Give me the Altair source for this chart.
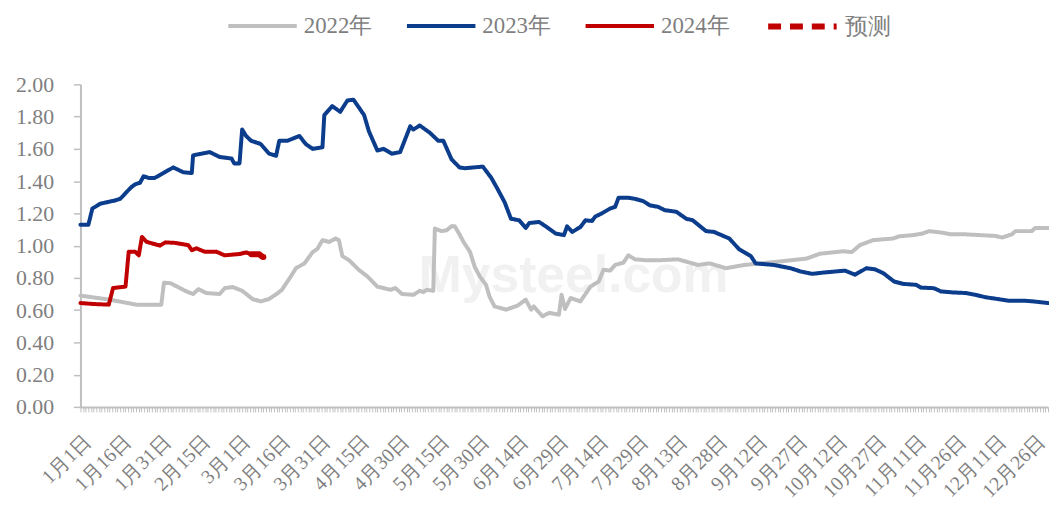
import altair as alt
import pandas as pd

tick_labels = ["1月1日", "1月16日", "1月31日", "2月15日", "3月1日", "3月16日", "3月31日",
               "4月15日", "4月30日", "5月15日", "5月30日", "6月14日", "6月29日", "7月14日",
               "7月29日", "8月13日", "8月28日", "9月12日", "9月27日", "10月12日", "10月27日",
               "11月11日", "11月26日", "12月11日", "12月26日"]

series_names = ["2022年", "2023年", "2024年", "预测"]

days_2022 = [0, 11, 17.5, 21, 30.5, 31.5, 34, 37.5, 40, 42.5, 44.5, 47.5, 52.5, 54.5, 57.5, 61, 65, 68, 71, 74, 76,
             79, 81.3, 84.5, 87.6, 89.4, 91.3, 93.8, 96.3, 97.5, 98.8, 101.3, 105, 108.2, 112, 117, 118.8, 121.3,
             125.6, 128, 129.4, 130.6, 133.1, 133.7, 136.2, 138.1, 140, 141.2, 143, 144.5, 147, 148.7, 150.6, 153,
             154.3, 156.2, 160.6, 164.9, 168, 170, 171, 174.3, 176.8, 180.5, 181.5, 182.8, 184.9, 188.6, 192.4,
             195.5, 197.3, 199.8, 201.7, 204.8, 206.7, 209.2, 212.9, 219, 225.4, 232.9, 237.3, 243.5, 250.4,
             262.8, 274, 279, 287.8, 291, 294, 299, 306.5, 309, 314, 317.7, 320.2, 325.2, 328.3, 334, 345.2,
             347.7, 351.4, 352.7, 358.9, 360.1, 365]
vals_2022 = [0.69, 0.665, 0.645, 0.634, 0.634, 0.77, 0.767, 0.737, 0.716, 0.70, 0.73, 0.706, 0.70, 0.737, 0.743,
             0.72, 0.668, 0.654, 0.668, 0.70, 0.726, 0.80, 0.86, 0.89, 0.96, 0.98, 1.034, 1.023, 1.044, 1.034,
             0.935, 0.91, 0.85, 0.81, 0.746, 0.726, 0.737, 0.70, 0.695, 0.72, 0.712, 0.726, 0.72, 1.106, 1.09,
             1.095, 1.12, 1.12, 1.07, 1.023, 0.96, 0.87, 0.81, 0.757, 0.685, 0.623, 0.603, 0.628, 0.665, 0.603,
             0.623, 0.562, 0.583, 0.572, 0.695, 0.607, 0.675, 0.654, 0.746, 0.777, 0.85, 0.845, 0.88, 0.894,
             0.94, 0.915, 0.91, 0.91, 0.915, 0.88, 0.89, 0.86, 0.88, 0.90, 0.92, 0.95, 0.965, 0.96, 1.003,
             1.034, 1.044, 1.058, 1.065, 1.075, 1.09, 1.08, 1.07, 1.07, 1.06, 1.05, 1.07, 1.09, 1.09, 1.11, 1.11]

days_2023 = [0, 3, 4.5, 7.5, 13, 15, 19, 20.6, 22.5, 23.8, 25.7, 28, 31.3, 35, 38.8, 42, 42.5, 48.8, 52.5, 57, 58,
             60, 61, 62.5, 64.4, 68, 71.2, 73.8, 75, 78, 82.6, 85, 87.6, 91.3, 92, 95, 98, 100.7, 103, 107, 108.8,
             112, 114.4, 117.5, 120.6, 124.4, 125.6, 128, 131.8, 135, 136.9, 140, 143, 145, 151.8, 155, 157.4,
             160, 162.4, 165.5, 168, 169.3, 173, 175.5, 179.3, 182.4, 183.6, 185.5, 188.6, 190.5, 193, 194.2,
             196.7, 199.8, 201.7, 203, 206.7, 209.2, 212.3, 214.8, 218, 220.4, 224.8, 228.5, 231, 236, 239,
             244.8, 248.5, 252.9, 254.7, 261.6, 267.8, 271.6, 276, 280.3, 288.4, 292.2, 296.5, 299.7, 302.8,
             307, 310.3, 315.2, 317, 322, 324.6, 329, 334, 337.6, 341.4, 346.4, 350.2, 356.4, 359.5, 365]
vals_2023 = [1.13, 1.13, 1.23, 1.26, 1.28, 1.29, 1.36, 1.38, 1.39, 1.43, 1.42, 1.42, 1.45, 1.485, 1.455, 1.45,
             1.56, 1.58, 1.55, 1.54, 1.51, 1.51, 1.72, 1.68, 1.65, 1.63, 1.57, 1.557, 1.65, 1.65, 1.68, 1.63,
             1.60, 1.61, 1.81, 1.865, 1.83, 1.90, 1.905, 1.81, 1.71, 1.59, 1.60, 1.57, 1.58, 1.74, 1.72, 1.745,
             1.70, 1.65, 1.65, 1.535, 1.485, 1.48, 1.49, 1.42, 1.35, 1.27, 1.167, 1.157, 1.11, 1.14, 1.147,
             1.12, 1.075, 1.065, 1.12, 1.085, 1.115, 1.157, 1.153, 1.18, 1.20, 1.23, 1.24, 1.297, 1.297, 1.29,
             1.276, 1.25, 1.24, 1.22, 1.21, 1.167, 1.157, 1.09, 1.085, 1.044, 0.977, 0.935, 0.89, 0.88, 0.86,
             0.84, 0.825, 0.833, 0.845, 0.82, 0.86, 0.853, 0.83, 0.777, 0.763, 0.757, 0.74, 0.736, 0.716, 0.71,
             0.706, 0.695, 0.68, 0.668, 0.658, 0.658, 0.654, 0.644]

days_2024 = [0, 5, 10.7, 12.3, 17, 18.2, 20.7, 22, 23.2, 25, 30, 32, 35.7, 40.7, 42, 43.8, 46.9, 51.3, 54.4, 60,
             62.5, 64.5]
vals_2024 = [0.644, 0.638, 0.634, 0.737, 0.746, 0.962, 0.962, 0.94, 1.054, 1.023, 1.0, 1.02, 1.017, 1.003,
             0.972, 0.983, 0.962, 0.962, 0.94, 0.948, 0.958, 0.946]

days_fc = [64.5, 67.5, 68.7, 70.6]
vals_fc = [0.946, 0.946, 0.93, 0.93]

watermark_text = ["Mysteel.com"]

rows = []
for name, ds, vs in zip(series_names,
                        [days_2022, days_2023, days_2024, days_fc],
                        [vals_2022, vals_2023, vals_2024, vals_fc]):
    for d, v in zip(ds, vs):
        rows.append({"series": name, "day": d, "value": v})
df = pd.DataFrame(rows)

colors = ["#BFBFBF", "#0B3D8C", "#C00000", "#C00000"]
dashes = [[1, 0], [1, 0], [1, 0], [13, 9]]
widths = [4, 4, 4, 6]

label_js = "[" + ",".join("'" + t + "'" for t in tick_labels) + "]"
label_expr = "datum.value % 15 == 0 ? " + label_js + "[datum.value / 15] : ''"

legend = alt.Legend(title=None, orient="none", legendX=147, legendY=-96, direction="horizontal",
                    symbolType="stroke", symbolSize=4761, labelFont="Liberation Serif",
                    labelFontSize=23, labelColor="#7F7F7F", labelOffset=5, columnPadding=27)

x_enc = alt.X("day:Q",
              scale=alt.Scale(domain=[0, 365], nice=False, zero=False),
              axis=alt.Axis(values=list(range(366)), labelExpr=label_expr, labelAngle=-45,
                            labelAlign="right", labelBaseline="top", labelOverlap=False,
                            labelFont="Liberation Serif", labelFontSize=20, labelColor="#7F7F7F",
                            labelPadding=19, domainColor="#BFBFBF", domainWidth=2,
                            tickColor="#BFBFBF", tickSize=5, tickWidth=1, grid=False, title=None))
y_enc = alt.Y("value:Q",
              scale=alt.Scale(domain=[0, 2], nice=False),
              axis=alt.Axis(values=[0, 0.2, 0.4, 0.6, 0.8, 1.0, 1.2, 1.4, 1.6, 1.8, 2.0], format=".2f",
                            labelFont="Liberation Serif", labelFontSize=22, labelColor="#7F7F7F",
                            labelPadding=20, domainColor="#BFBFBF", domainWidth=2,
                            tickColor="#BFBFBF", tickSize=7, tickWidth=1.5, grid=False, title=None))

watermark = alt.Chart(pd.DataFrame({"t": watermark_text})).mark_text(
    font="Arial", fontSize=52, fontWeight="bold", color="#F1F1F1", align="center", baseline="alphabetic"
).encode(text="t:N", x=alt.value(497), y=alt.value(209))

lines = alt.Chart(df).mark_line(strokeCap="round", strokeJoin="round").encode(
    x=x_enc,
    y=y_enc,
    color=alt.Color("series:N", scale=alt.Scale(domain=series_names, range=colors), legend=legend),
    strokeDash=alt.StrokeDash("series:N", scale=alt.Scale(domain=series_names, range=dashes), legend=legend),
    strokeWidth=alt.StrokeWidth("series:N", scale=alt.Scale(type="ordinal", domain=series_names, range=widths),
                                legend=legend),
)

chart = alt.layer(watermark, lines).properties(
    width=975, height=325,
    autosize=alt.AutoSizeParams(type="none"),
    padding={"left": 73, "top": 75, "right": 1, "bottom": 110},
).configure_view(stroke=None)

chart.save("out.html", embed_options={"renderer": "svg", "actions": False})
